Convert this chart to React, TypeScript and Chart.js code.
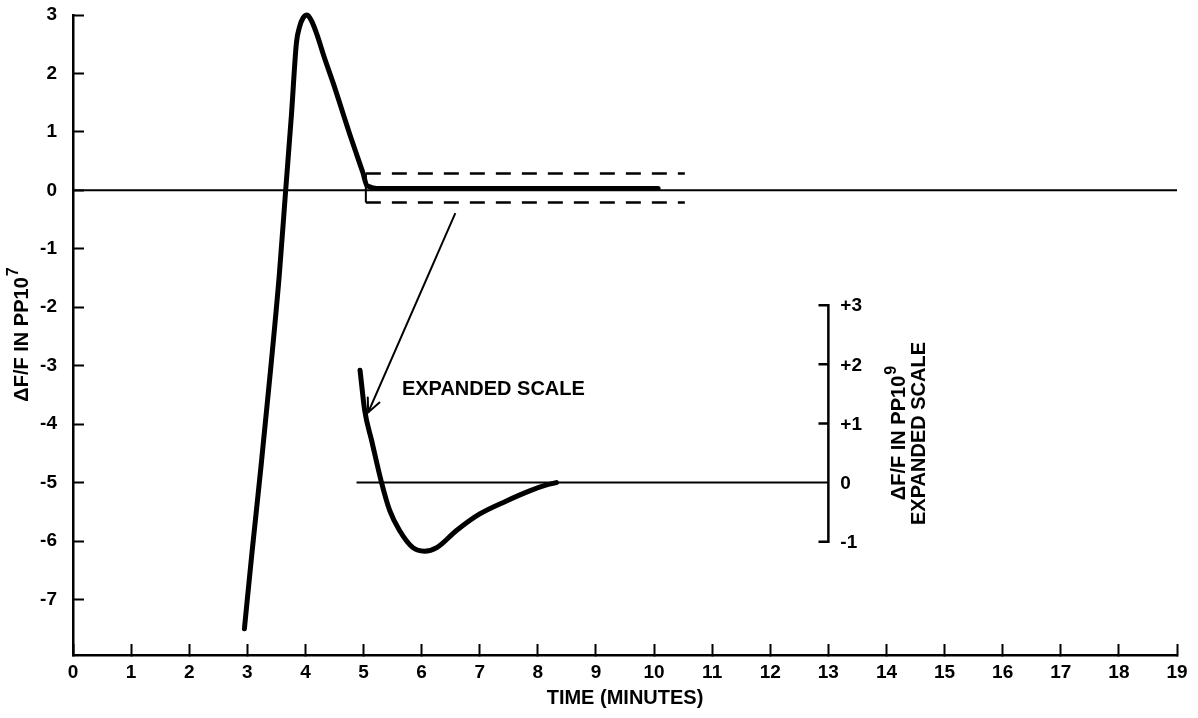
import React, { useEffect, useRef } from 'react';
import { Chart, registerables } from 'chart.js';

Chart.register(...registerables);

const FAMILY = '"Liberation Sans", Arial, Helvetica, sans-serif';

// ---- Data ----
const xTicks = [0, 1, 2, 3, 4, 5, 6, 7, 8, 9, 10, 11, 12, 13, 14, 15, 16, 17, 18, 19];
const yTicks = [-7, -6, -5, -4, -3, -2, -1, 0, 1, 2, 3];
const Y_MIN = -7.95;
const Y_MAX = 3;

// main response curve (PP10^7)
const mainX = [2.95, 3.08, 3.24, 3.41, 3.55, 3.66, 3.76, 3.845, 3.9, 3.96, 4.03, 4.1, 4.19, 4.33, 4.48, 4.62, 4.76, 4.9, 4.99, 5.06, 5.3, 7.0, 10.07];
const mainY = [-7.5, -6.2, -4.68, -2.97, -1.45, 0, 1.3, 2.52, 2.8, 2.95, 3.0, 2.91, 2.69, 2.26, 1.83, 1.4, 0.97, 0.56, 0.3, 0.08, 0.03, 0.03, 0.03];

// reference zero line
const zeroX = [0, 19];
const zeroY = [0, 0];

// dashed window that is expanded
const windowX = [5.04, 10.53];
const windowTop = 0.29;
const windowBottom = -0.21;

// expanded scale curve (PP10^9)
const expX = [4.94, 5.02, 5.14, 5.31, 5.45, 5.62, 5.85, 6.05, 6.26, 6.6, 7.0, 7.46, 7.86, 8.15, 8.32];
const expY = [1.9, 1.22, 0.71, 0, -0.47, -0.81, -1.1, -1.16, -1.1, -0.81, -0.53, -0.31, -0.14, -0.04, 0];
const expZeroX = [4.88, 13];

// expanded-scale axis
const RIGHT_AXIS_X = 13;
const RIGHT_TICK_LEN = 0.17;
const rightTicks = [3, 2, 1, 0, -1];
const rightTickLabels = ['+3', '+2', '+1', '0', '-1'];
const EXP_ZERO_ON_MAIN = -5;
const EXP_SCALE = 1.012;

// arrow from the window to the expanded curve
const arrowX = [6.58, 5.08];
const arrowY = [-0.39, -3.8];

const pts = (xs: number[], ys: number[]) => xs.map((x, i) => ({ x, y: ys[i] }));

// rotated title with a raised exponent
function drawRotatedTitle(ctx: any, cx: number, cy: number, base: string, sup: string) {
  ctx.save();
  ctx.translate(cx, cy);
  ctx.rotate(-Math.PI / 2);
  ctx.textBaseline = 'middle';
  ctx.textAlign = 'left';
  ctx.font = `bold 20px ${FAMILY}`;
  const w1 = ctx.measureText(base).width;
  ctx.font = `bold 16px ${FAMILY}`;
  const w2 = sup ? ctx.measureText(sup).width : 0;
  const start = -(w1 + w2) / 2;
  ctx.font = `bold 20px ${FAMILY}`;
  ctx.fillText(base, start, 0);
  if (sup) {
    ctx.font = `bold 16px ${FAMILY}`;
    ctx.fillText(sup, start + w1 + 1, -8);
  }
  ctx.restore();
}

const overlayPlugin = {
  id: 'overlay',
  afterDatasetsDraw(chart: any) {
    const { ctx, scales, chartArea } = chart;
    const x = scales.x;
    const y = scales.y;
    const y2 = scales.y2;
    ctx.save();
    ctx.fillStyle = '#000';
    ctx.strokeStyle = '#000';

    // arrow head
    const tx = x.getPixelForValue(arrowX[1]);
    const ty = y.getPixelForValue(arrowY[1]);
    const sx = x.getPixelForValue(arrowX[0]);
    const sy = y.getPixelForValue(arrowY[0]);
    const ang = Math.atan2(sy - ty, sx - tx);
    const len = 15;
    ctx.lineWidth = 2;
    ctx.lineCap = 'round';
    ctx.beginPath();
    ctx.moveTo(tx + len * Math.cos(ang + 0.44), ty + len * Math.sin(ang + 0.44));
    ctx.lineTo(tx, ty);
    ctx.lineTo(tx + len * Math.cos(ang - 0.44), ty + len * Math.sin(ang - 0.44));
    ctx.stroke();

    // left axis title
    drawRotatedTitle(ctx, 22, (chartArea.top + chartArea.bottom) / 2, '\u0394F/F IN PP10', '7');

    // right axis labels
    const axisPx = x.getPixelForValue(RIGHT_AXIS_X);
    ctx.font = `bold 19px ${FAMILY}`;
    ctx.textAlign = 'left';
    ctx.textBaseline = 'middle';
    rightTicks.forEach((v, i) => {
      ctx.fillText(rightTickLabels[i], axisPx + 12, y2.getPixelForValue(v) + 1);
    });

    // right axis title
    const cy = y2.getPixelForValue(0.83);
    drawRotatedTitle(ctx, axisPx + 71, cy, '\u0394F/F IN PP10', '9');
    drawRotatedTitle(ctx, axisPx + 91, cy, 'EXPANDED SCALE', '');

    // annotation label
    ctx.font = `bold 20px ${FAMILY}`;
    ctx.textAlign = 'left';
    ctx.textBaseline = 'middle';
    ctx.fillText('EXPANDED SCALE', x.getPixelForValue(5.66), y.getPixelForValue(-3.4));
    ctx.restore();
  },
};

export default function App() {
  const canvasRef = useRef<HTMLCanvasElement | null>(null);

  useEffect(() => {
    if (!canvasRef.current) return;
    const line = (data: any[], width: number, extra: any = {}) => ({
      data,
      showLine: true,
      pointRadius: 0,
      borderColor: '#000',
      backgroundColor: '#000',
      borderWidth: width,
      fill: false,
      clip: false,
      ...extra,
    });

    const bracket = [
      { x: RIGHT_AXIS_X - RIGHT_TICK_LEN, y: rightTicks[0] },
      { x: RIGHT_AXIS_X, y: rightTicks[0] },
      { x: RIGHT_AXIS_X, y: rightTicks[rightTicks.length - 1] },
      { x: RIGHT_AXIS_X - RIGHT_TICK_LEN, y: rightTicks[rightTicks.length - 1] },
    ];
    const midTicks: any[] = [];
    rightTicks.slice(1, -1).forEach((v) => {
      if (v === 0) return;
      midTicks.push({ x: RIGHT_AXIS_X - RIGHT_TICK_LEN, y: v }, { x: RIGHT_AXIS_X, y: v }, { x: RIGHT_AXIS_X, y: null });
    });

    const gridCommon = {
      drawOnChartArea: false,
      drawTicks: true,
      tickLength: -11,
      tickWidth: 2,
      tickColor: '#000',
    };

    const chart = new Chart(canvasRef.current, {
      type: 'scatter',
      data: {
        datasets: [
          line(pts(zeroX, zeroY), 2),
          line(pts(mainX, mainY), 5, { cubicInterpolationMode: 'monotone', borderCapStyle: 'round', borderJoinStyle: 'round' }),
          line(pts(windowX, [windowTop, windowTop]), 2.5, { borderDash: [15, 11] }),
          line(pts(windowX, [windowBottom, windowBottom]), 2.5, { borderDash: [15, 11] }),
          line(pts([windowX[0], windowX[0]], [windowTop, windowBottom]), 2),
          line(pts(expZeroX, [0, 0]), 2, { yAxisID: 'y2' }),
          line(pts(expX, expY), 5, { yAxisID: 'y2', cubicInterpolationMode: 'monotone', borderCapStyle: 'round', borderJoinStyle: 'round' }),
          line(bracket, 2.5, { yAxisID: 'y2' }),
          line(midTicks, 2.5, { yAxisID: 'y2', spanGaps: false }),
          line(pts(arrowX, arrowY), 2),
        ],
      },
      options: {
        animation: false,
        responsive: false,
        devicePixelRatio: 1,
        layout: { padding: { top: 15, right: 21, bottom: 0, left: 0 } },
        plugins: { legend: { display: false }, tooltip: { enabled: false } },
        scales: {
          x: {
            type: 'linear',
            position: 'bottom',
            min: 0,
            max: 19,
            afterBuildTicks: (s: any) => { s.ticks = xTicks.map((v) => ({ value: v })); },
            afterFit: (s: any) => { s.height = 63; s.paddingLeft = 0; s.paddingRight = 0; },
            grid: gridCommon,
            border: { display: true, color: '#000', width: 2.5 },
            ticks: { color: '#000', font: { family: FAMILY, size: 19, weight: 'bold' }, padding: 17, autoSkip: false, maxRotation: 0 },
            title: { display: true, text: 'TIME (MINUTES)', color: '#000', font: { family: FAMILY, size: 20, weight: 'bold' }, padding: { top: 0, bottom: 8 } },
          },
          y: {
            type: 'linear',
            position: 'left',
            min: Y_MIN,
            max: Y_MAX,
            afterBuildTicks: (s: any) => { s.ticks = yTicks.map((v) => ({ value: v })); },
            afterFit: (s: any) => { s.width = 73; s.paddingTop = 0; s.paddingBottom = 0; },
            grid: gridCommon,
            border: { display: true, color: '#000', width: 2.5 },
            ticks: { color: '#000', font: { family: FAMILY, size: 19, weight: 'bold' }, padding: 27 },
            title: { display: false },
          },
          y2: {
            type: 'linear',
            display: false,
            min: (Y_MIN - EXP_ZERO_ON_MAIN) / EXP_SCALE,
            max: (Y_MAX - EXP_ZERO_ON_MAIN) / EXP_SCALE,
          },
        },
      } as any,
      plugins: [overlayPlugin],
    });
    return () => chart.destroy();
  }, []);

  return (
    <div style={{ position: 'fixed', left: 0, top: 0, width: 1198, height: 718, background: '#fff' }}>
      <canvas ref={canvasRef} width={1198} height={718} style={{ display: 'block', width: 1198, height: 718 }} />
    </div>
  );
}
